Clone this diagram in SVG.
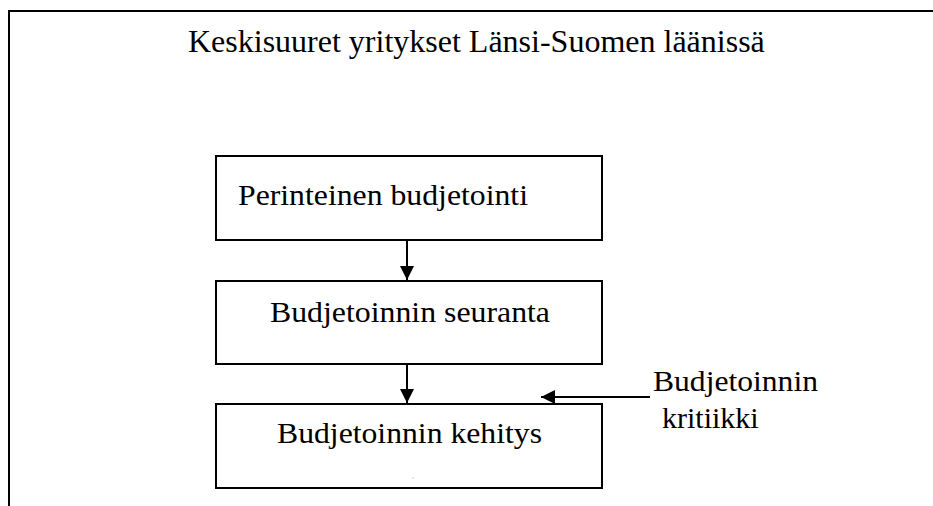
<svg xmlns="http://www.w3.org/2000/svg" width="933" height="506" viewBox="0 0 933 506">
<style>
text{font-family:"Liberation Serif","Times New Roman",serif;fill:#000}
.box{fill:#fff;stroke:#000;stroke-width:2}
.frame{fill:none;stroke:#000;stroke-width:2}
.conn{stroke:#000;stroke-width:2;fill:none}
</style>
<defs>
<marker id="ah" viewBox="0 0 14 14" refX="14" refY="7" markerWidth="14" markerHeight="14" markerUnits="userSpaceOnUse" orient="auto">
<path d="M0,0 L14,7 L0,14 Z" fill="#000"/>
</marker>
</defs>
<path class="frame" d="M9,506 L9,11 L933,11"/>
<text x="188" y="52" font-size="32">Keskisuuret yritykset Länsi-Suomen läänissä</text>
<g id="n1">
<rect class="box" x="216" y="156" width="386" height="84"/>
<text x="238" y="205" font-size="30" textLength="290" lengthAdjust="spacingAndGlyphs">Perinteinen budjetointi</text>
</g>
<g id="n2">
<rect class="box" x="216" y="281" width="386" height="83"/>
<text x="270" y="322" font-size="30" textLength="280" lengthAdjust="spacingAndGlyphs">Budjetoinnin seuranta</text>
</g>
<g id="n3">
<rect class="box" x="216" y="404" width="386" height="84"/>
<text x="277" y="443" font-size="30" textLength="265" lengthAdjust="spacingAndGlyphs">Budjetoinnin kehitys</text>
<circle cx="413" cy="478" r="0.6" fill="#999"/>
</g>
<g id="n4">
<text x="653" y="391" font-size="30" textLength="165" lengthAdjust="spacingAndGlyphs">Budjetoinnin</text>
<text x="662" y="428" font-size="30">kritiikki</text>
</g>
<g id="connectors">
<line class="conn" x1="407" y1="240" x2="407" y2="280" marker-end="url(#ah)"/>
<line class="conn" x1="407" y1="364" x2="407" y2="403" marker-end="url(#ah)"/>
<line class="conn" x1="650" y1="397" x2="541" y2="397" marker-end="url(#ah)"/>
</g>
</svg>
